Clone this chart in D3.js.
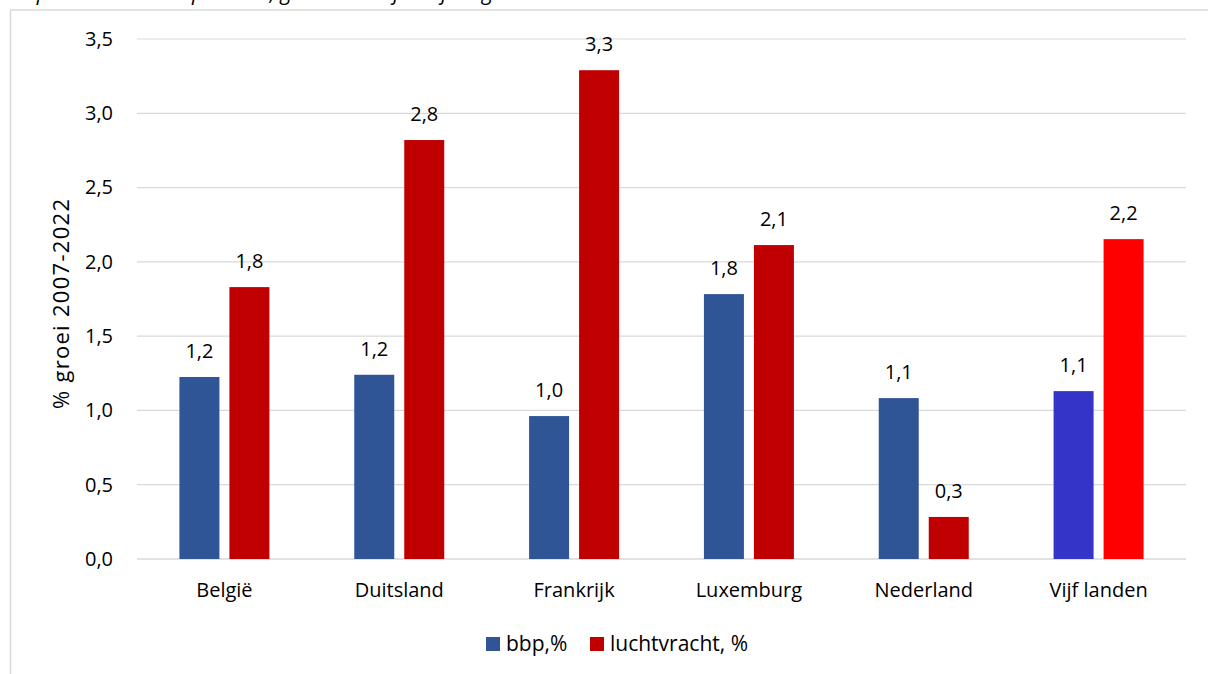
<!DOCTYPE html>
<html><head><meta charset="utf-8">
<script src="https://cdn.jsdelivr.net/npm/d3@7"></script>
<style>
html,body{margin:0;padding:0;background:#fff;overflow:hidden}
text{font-family:"Open Sans",sans-serif;fill:#000}
</style></head>
<body><svg id="c" width="1208" height="674"></svg>
<script>
const categories = ["België","Duitsland","Frankrijk","Luxemburg","Nederland","Vijf landen"];
const bbp = [1.225, 1.24, 0.962, 1.783, 1.083, 1.13];
const luchtvracht = [1.83, 2.82, 3.29, 2.113, 0.283, 2.153];
const seriesNames = ["bbp,%","luchtvracht, %"];
const yTicks = [0,0.5,1,1.5,2,2.5,3,3.5];
const titleText = "Bbp en luchtvracht per land, gemiddelde jaarlijkse groei";
const yTitle = "% groei 2007-2022";

const colors = {bbp:"#2F5597", lucht:"#C00000", bbpTot:"#3434C8", luchtTot:"#FF0000"};

const svg = d3.select("#c");
const m = {l:137, r:1186, t:39, b:559};
const FS = 20;

// outer frame & cut-off title
svg.append("rect").attr("x",10.5).attr("y",10).attr("width",1300).attr("height",800)
  .attr("fill","none").attr("stroke","#D9D9D9").attr("stroke-width",1.5);
svg.append("text").attr("x",12).attr("y",0).attr("font-size",21).attr("font-style","italic")
  .text(titleText);

const x = d3.scaleBand().domain(categories).range([m.l,m.r]);
const y = d3.scaleLinear().domain([0,3.5]).range([m.b,m.t]);
const fmt = v => d3.format(".1f")(v).replace(".",",");

// gridlines
svg.append("g").selectAll("line").data(yTicks).join("line")
  .attr("x1",m.l).attr("x2",m.r).attr("y1",d=>y(d)).attr("y2",d=>y(d))
  .attr("stroke","#D9D9D9").attr("stroke-width",d=>d===0?1.5:1.2);

// y axis labels via d3 axis
const yAxis = svg.append("g").attr("transform",`translate(${m.l},0)`)
  .call(d3.axisLeft(y).tickValues(yTicks).tickFormat(fmt).tickSize(0).tickPadding(24));
yAxis.select(".domain").remove();
yAxis.selectAll("text").attr("font-size",FS).attr("font-family","Open Sans").attr("fill","#000");

// x axis labels
const xAxis = svg.append("g").attr("transform",`translate(0,${m.b})`)
  .call(d3.axisBottom(x).tickSize(0).tickPadding(24));
xAxis.select(".domain").remove();
xAxis.selectAll("text").attr("font-size",FS).attr("font-family","Open Sans").attr("fill","#000");

// bars
const barW = 40, gap = 10;
const data = categories.map((c,i)=>({c,i,b:bbp[i],l:luchtvracht[i]}));
const g = svg.append("g");
data.forEach(d=>{
  const cx = x(d.c)+x.bandwidth()/2;
  const last = d.i===categories.length-1;
  const bars = [
    {v:d.b, x0:cx-gap/2-barW, col:last?colors.bbpTot:colors.bbp},
    {v:d.l, x0:cx+gap/2, col:last?colors.luchtTot:colors.lucht}
  ];
  bars.forEach(b=>{
    g.append("rect").attr("x",b.x0).attr("y",y(b.v)).attr("width",barW)
      .attr("height",y(0)-y(b.v)).attr("fill",b.col);
    g.append("text").attr("x",b.x0+barW/2).attr("y",y(b.v)-19)
      .attr("text-anchor","middle").attr("font-size",FS).text(fmt(b.v));
  });
});

// y title
svg.append("text").attr("transform",`translate(69,304) rotate(-90)`)
  .attr("text-anchor","middle").attr("font-size",22)
  .attr("textLength",210).attr("lengthAdjust","spacing").text(yTitle);

// legend
const leg = svg.append("g");
const legItems = [{n:seriesNames[0],c:colors.bbp,x:486},{n:seriesNames[1],c:colors.lucht,x:590}];
legItems.forEach(it=>{
  leg.append("rect").attr("x",it.x).attr("y",637).attr("width",14).attr("height",14).attr("fill",it.c);
  leg.append("text").attr("x",it.x+20).attr("y",651).attr("font-size",21).text(it.n);
});
</script></body></html>
